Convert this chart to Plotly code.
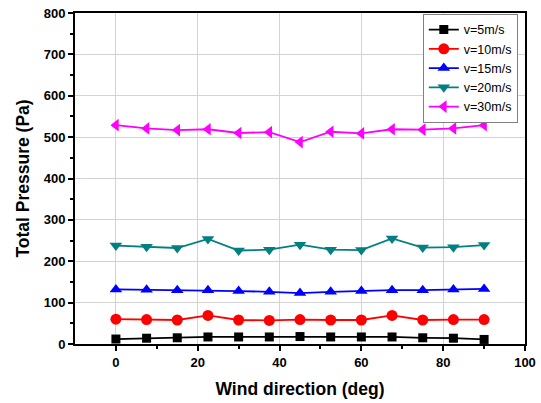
import plotly.graph_objects as go

wind_dir = [0, 7.5, 15, 22.5, 30, 37.5, 45, 52.5, 60, 67.5, 75, 82.5, 90]
p_v5 = [12, 14, 15, 17, 17, 17, 18, 17, 17, 17, 15, 14, 11]
p_v10 = [60, 59, 58, 69, 58, 57, 59, 58, 58, 69, 58, 59, 59]
p_v15 = [132, 131, 130, 130, 128, 126, 123, 126, 128, 130, 130, 132, 133]
p_v20 = [238, 235, 232, 254, 226, 228, 240, 228, 227, 255, 233, 234, 239]
p_v30 = [529, 521, 517, 519, 510, 512, 488, 513, 509, 519, 518, 521, 529]

series = [
    ("v=5m/s", p_v5, "#000000", "square", 9),
    ("v=10m/s", p_v10, "#ff0000", "circle", 11),
    ("v=15m/s", p_v15, "#0000ff", "triangle-up", 11),
    ("v=20m/s", p_v20, "#008080", "triangle-down", 11),
    ("v=30m/s", p_v30, "#ff00ff", "triangle-left", 11),
]

fig = go.Figure()
for name, vals, color, sym, size in series:
    fig.add_trace(go.Scatter(
        x=wind_dir, y=vals, name=name, mode="lines+markers",
        line=dict(color=color, width=1.8),
        marker=dict(symbol=sym, size=size, color=color),
    ))

font_family = "Liberation Sans, Arial, sans-serif"
fig.update_layout(
    width=541, height=403,
    margin=dict(l=75, r=16, t=13, b=59),
    paper_bgcolor="white", plot_bgcolor="white",
    font=dict(family=font_family, color="black"),
    showlegend=True,
    legend=dict(
        x=0.984, xanchor="right", y=0.997, yanchor="top",
        bgcolor="white", bordercolor="#808080", borderwidth=1,
        font=dict(size=12.5, family=font_family),
        tracegroupgap=0, itemwidth=30,
    ),
)
fig.update_xaxes(
    range=[-10, 100], tickvals=[0, 20, 40, 60, 80, 100], automargin=False,
    showline=True, linecolor="black", linewidth=2, mirror=True,
    ticks="outside", ticklen=5, tickwidth=1.5, tickcolor="black",
    minor=dict(tickvals=[10, 30, 50, 70, 90], ticks="outside", ticklen=3, tickwidth=1.5, tickcolor="black", showgrid=False),
    showgrid=True, gridcolor="#d3d3d3", gridwidth=1, zeroline=False,
    tickfont=dict(size=13, family=font_family, weight="bold"),
    title=dict(text="<b>Wind direction (deg)</b>", font=dict(size=17.5, family=font_family), standoff=14),
)
fig.update_yaxes(
    range=[0, 800], tickvals=[0, 100, 200, 300, 400, 500, 600, 700, 800], automargin=False,
    showline=True, linecolor="black", linewidth=2, mirror=True,
    ticks="outside", ticklen=5, tickwidth=1.5, tickcolor="black",
    minor=dict(tickvals=[50, 150, 250, 350, 450, 550, 650, 750], ticks="outside", ticklen=3, tickwidth=1.5, tickcolor="black", showgrid=False),
    showgrid=True, gridcolor="#d3d3d3", gridwidth=1, zeroline=False,
    tickfont=dict(size=13, family=font_family, weight="bold"),
    title=dict(text="<b>Total Pressure (Pa)</b>", font=dict(size=17.5, family=font_family), standoff=10),
)

fig.write_html("out.html")
